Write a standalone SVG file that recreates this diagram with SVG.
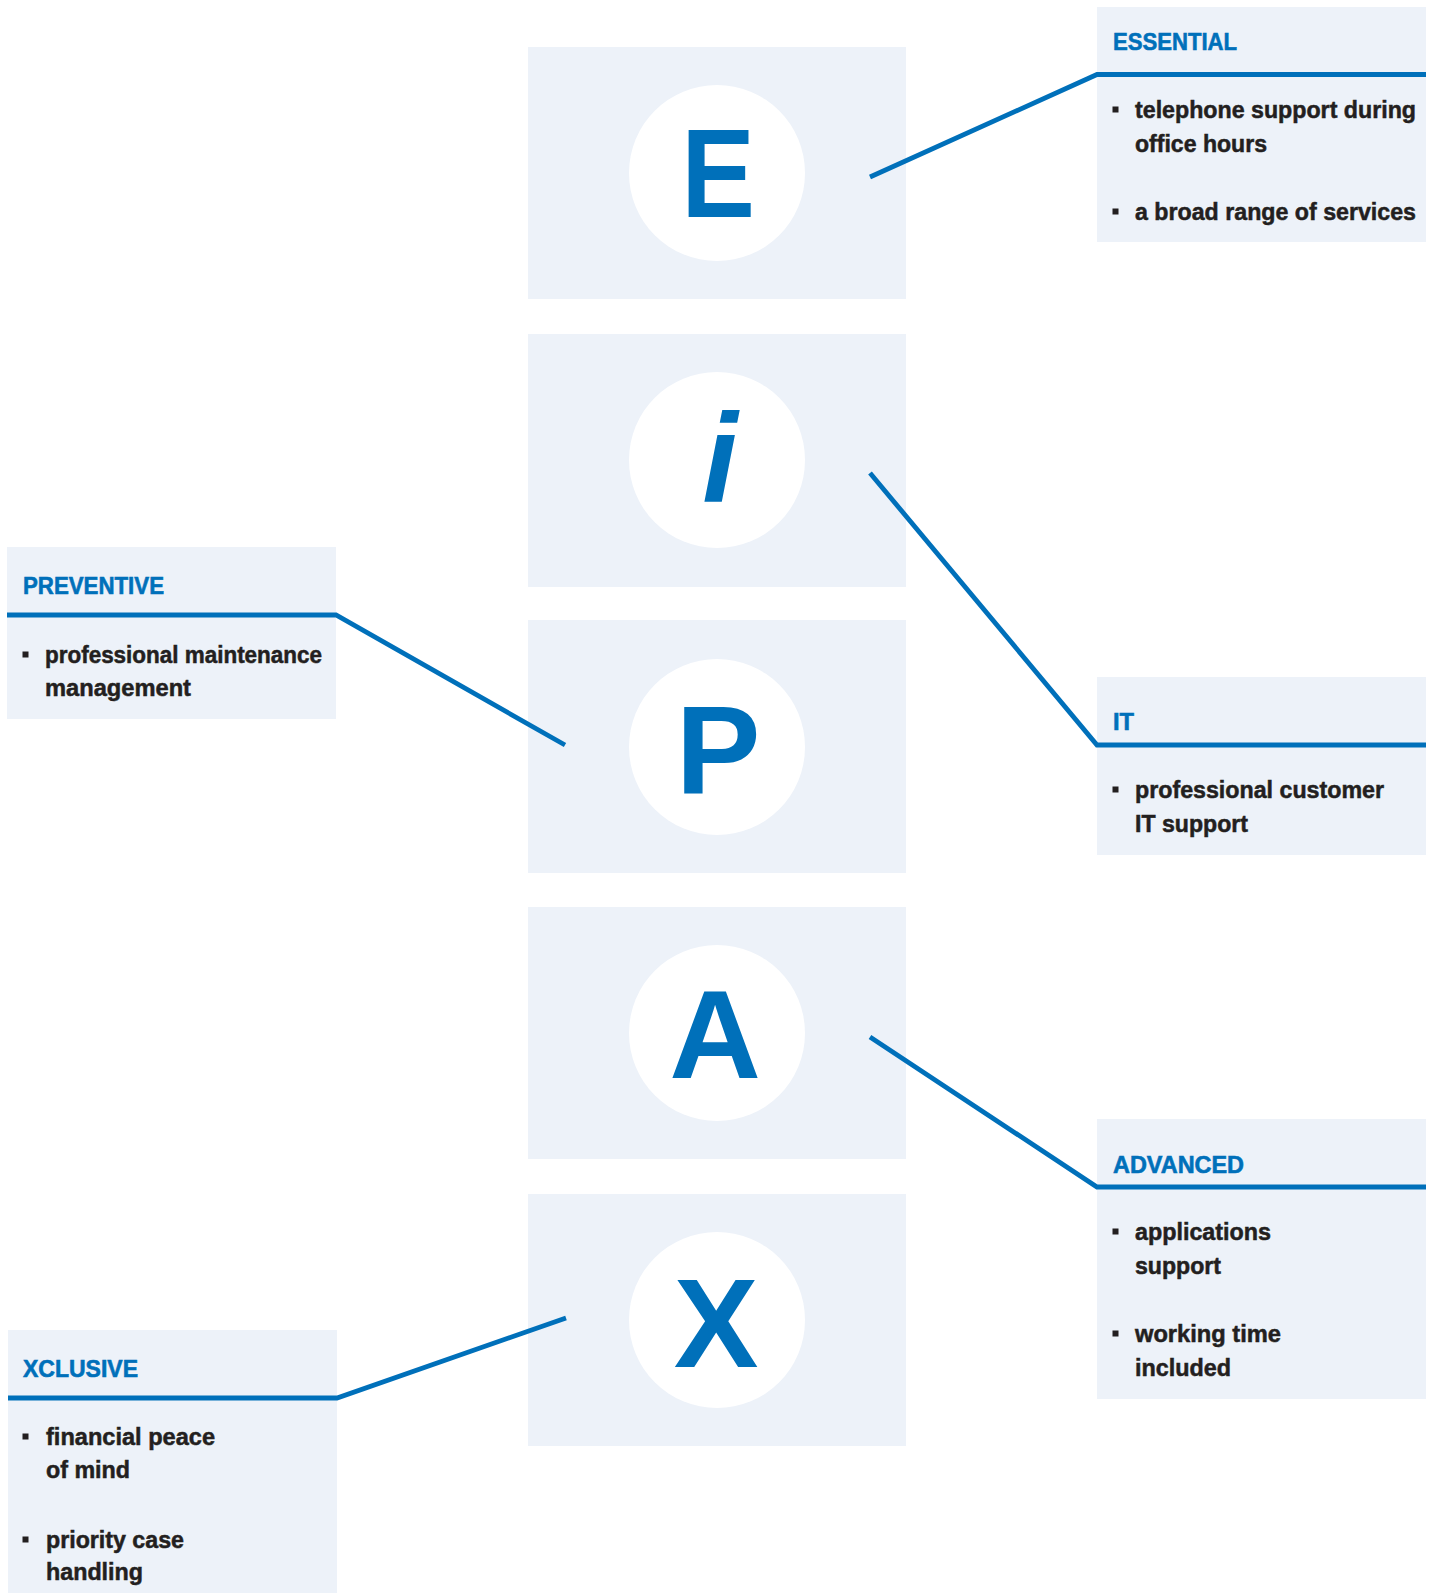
<svg xmlns="http://www.w3.org/2000/svg" width="1437" height="1593" viewBox="0 0 1437 1593">
  <style>
    .panel { fill: #EDF2F9; }
    .disc { fill: #FFFFFF; }
    .letter { font-family: "Liberation Sans", Arial, sans-serif; font-weight: bold; font-size: 127px; fill: #0070BA; text-anchor: middle; }
    .title { font-family: "Liberation Sans", Arial, sans-serif; font-weight: bold; font-size: 24px; fill: #0070BA; stroke: #0070BA; stroke-width: 0.6; }
    .item { font-family: "Liberation Sans", Arial, sans-serif; font-weight: bold; font-size: 23px; fill: #231F20; stroke: #231F20; stroke-width: 0.5; }
    .bullet { fill: #231F20; }
    .rule, .conn { stroke: #0070BA; stroke-width: 4.8; fill: none; stroke-linecap: butt; stroke-linejoin: miter; }
  </style>

  <rect width="1437" height="1593" fill="#FFFFFF"/>

  <!-- Center letter nodes -->
  <g id="node-E">
    <rect class="panel" x="528" y="47" width="378" height="252"/>
    <circle class="disc" cx="717" cy="173" r="88"/>
    <text class="letter" x="718" y="217" transform="translate(718 0) scale(0.87 1) translate(-718 0)">E</text>
  </g>
  <g id="node-i">
    <rect class="panel" x="528" y="334" width="378" height="253"/>
    <circle class="disc" cx="717" cy="460" r="88"/>
    <text class="letter" x="720" y="502" font-style="italic">i</text>
  </g>
  <g id="node-P">
    <rect class="panel" x="528" y="620" width="378" height="253"/>
    <circle class="disc" cx="717" cy="747" r="88"/>
    <text class="letter" x="718" y="794">P</text>
  </g>
  <g id="node-A">
    <rect class="panel" x="528" y="907" width="378" height="252"/>
    <circle class="disc" cx="717" cy="1033" r="88"/>
    <text class="letter" x="715" y="1078">A</text>
  </g>
  <g id="node-X">
    <rect class="panel" x="528" y="1194" width="378" height="252"/>
    <circle class="disc" cx="717" cy="1320" r="88"/>
    <text class="letter" x="716" y="1367">X</text>
  </g>

  <!-- Callout nodes -->
  <g id="callout-essential">
    <rect class="panel" x="1097" y="7" width="329" height="235"/>
    <text class="title" x="1113" y="50" textLength="124" lengthAdjust="spacingAndGlyphs">ESSENTIAL</text>
    <rect class="bullet" x="1112.5" y="106.5" width="6" height="6"/>
    <text class="item" x="1135" y="118" textLength="281" lengthAdjust="spacingAndGlyphs">telephone support during</text>
    <text class="item" x="1135" y="152" textLength="132" lengthAdjust="spacingAndGlyphs">office hours</text>
    <rect class="bullet" x="1112.5" y="208.5" width="6" height="6"/>
    <text class="item" x="1135" y="220" textLength="281" lengthAdjust="spacingAndGlyphs">a broad range of services</text>
  </g>
  <g id="callout-it">
    <rect class="panel" x="1097" y="677" width="329" height="178"/>
    <text class="title" x="1113" y="730" textLength="21" lengthAdjust="spacingAndGlyphs">IT</text>
    <rect class="bullet" x="1112.5" y="786.5" width="6" height="6"/>
    <text class="item" x="1135" y="798" textLength="249" lengthAdjust="spacingAndGlyphs">professional customer</text>
    <text class="item" x="1135" y="832" textLength="113" lengthAdjust="spacingAndGlyphs">IT support</text>
  </g>
  <g id="callout-advanced">
    <rect class="panel" x="1097" y="1119" width="329" height="280"/>
    <text class="title" x="1113" y="1173" textLength="131" lengthAdjust="spacingAndGlyphs">ADVANCED</text>
    <rect class="bullet" x="1112.5" y="1228.5" width="6" height="6"/>
    <text class="item" x="1135" y="1240" textLength="136" lengthAdjust="spacingAndGlyphs">applications</text>
    <text class="item" x="1135" y="1274" textLength="86" lengthAdjust="spacingAndGlyphs">support</text>
    <rect class="bullet" x="1112.5" y="1330.5" width="6" height="6"/>
    <text class="item" x="1135" y="1342" textLength="146" lengthAdjust="spacingAndGlyphs">working time</text>
    <text class="item" x="1135" y="1376" textLength="96" lengthAdjust="spacingAndGlyphs">included</text>
  </g>
  <g id="callout-preventive">
    <rect class="panel" x="7" y="547" width="329" height="172"/>
    <text class="title" x="23" y="594" textLength="141" lengthAdjust="spacingAndGlyphs">PREVENTIVE</text>
    <rect class="bullet" x="22.5" y="651.5" width="6" height="6"/>
    <text class="item" x="45" y="663" textLength="277" lengthAdjust="spacingAndGlyphs">professional maintenance</text>
    <text class="item" x="45" y="696" textLength="146" lengthAdjust="spacingAndGlyphs">management</text>
  </g>
  <g id="callout-xclusive">
    <rect class="panel" x="8" y="1330" width="329" height="263"/>
    <text class="title" x="23" y="1377" textLength="115" lengthAdjust="spacingAndGlyphs">XCLUSIVE</text>
    <rect class="bullet" x="22.5" y="1433.5" width="6" height="6"/>
    <text class="item" x="46" y="1445" textLength="169" lengthAdjust="spacingAndGlyphs">financial peace</text>
    <text class="item" x="46" y="1478" textLength="84" lengthAdjust="spacingAndGlyphs">of mind</text>
    <rect class="bullet" x="22.5" y="1536.5" width="6" height="6"/>
    <text class="item" x="46" y="1548" textLength="138" lengthAdjust="spacingAndGlyphs">priority case</text>
    <text class="item" x="46" y="1580" textLength="97" lengthAdjust="spacingAndGlyphs">handling</text>
  </g>

  <!-- Connectors -->
  <g id="connectors">
    <polyline class="conn" points="870,177 1097,74.5 1426,74.5"/>
    <polyline class="conn" points="870,473 1097,745 1426,745"/>
    <polyline class="conn" points="565,745 336,615 7,615"/>
    <polyline class="conn" points="870,1037 1097,1187 1426,1187"/>
    <polyline class="conn" points="566,1318 337,1398 8,1398"/>
  </g>
</svg>
